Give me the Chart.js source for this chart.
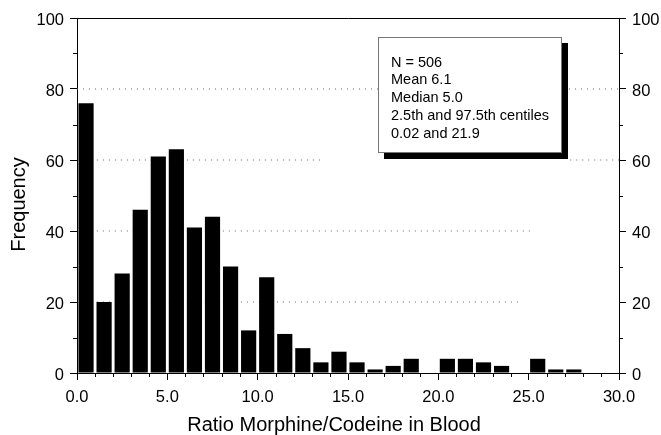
<!DOCTYPE html>
<html><head><meta charset="utf-8">
<script src="https://cdn.jsdelivr.net/npm/chart.js@4/dist/chart.umd.min.js"></script>
<style>html,body{margin:0;padding:0;background:#fff;}canvas{display:block;}</style>
</head><body>
<canvas id="c" width="661" height="435"></canvas>
<script>
// ---- data ----
const binCenters = [0.5,1.5,2.5,3.5,4.5,5.5,6.5,7.5,8.5,9.5,10.5,11.5,12.5,13.5,14.5,15.5,16.5,17.5,18.5,19.5,20.5,21.5,22.5,23.5,24.5,25.5,26.5,27.5];
const frequencies = [76,20,28,46,61,63,41,44,30,12,27,11,7,3,6,3,1,2,4,0,4,4,3,2,0,4,1,1];
const xTickValues = [0,5,10,15,20,25,30];
const yTickValues = [0,20,40,60,80,100];
const statsLines = ['N = 506','Mean 6.1','Median 5.0','2.5th and 97.5th centiles','0.02 and 21.9'];
const xTitle = 'Ratio Morphine/Codeine in Blood';
const yTitle = 'Frequency';
// dotted reference lines (value, spans in x units)
const guideLevels = [80, 60, 40, 20];
const guideSpans = [[[0,30]], [[1.1,13.6],[27.3,30]], [[1.1,25.2]], [[1.1,24.4]]];

const FONT = '"Liberation Sans", Arial, Helvetica, sans-serif';
Chart.defaults.font.family = FONT;
Chart.defaults.color = '#000';

function guideData(level, spans){
  const pts = [];
  spans.forEach((s, i) => {
    pts.push({x:s[0], y:level}, {x:s[1], y:level});
    if (i < spans.length - 1) pts.push({x:(s[1] + spans[i+1][0]) / 2, y:null});
  });
  return pts;
}

const guideDatasets = guideLevels.map((lv, i) => ({
  type:'line', data: guideData(lv, guideSpans[i]), borderColor:'#666', borderWidth:1,
  borderDash:[1,5], pointRadius:0, spanGaps:false, order:2, fill:false, yAxisID:'y'
}));

const deco = {
  id:'deco',
  afterDraw(chart){
    const {ctx, chartArea:a, scales} = chart;
    const x = scales.x, y = scales.y;
    ctx.save();
    ctx.strokeStyle = '#000'; ctx.lineWidth = 1;
    // top border
    ctx.beginPath(); ctx.moveTo(a.left, Math.round(a.top)+0.5); ctx.lineTo(a.right+0.5, Math.round(a.top)+0.5); ctx.stroke();
    // minor ticks x
    ctx.beginPath();
    for (let v = 0; v <= 30; v++) {
      if (v % 5 === 0) continue;
      const px = Math.round(x.getPixelForValue(v)) + 0.5;
      ctx.moveTo(px, a.bottom); ctx.lineTo(px, a.bottom + 4);
    }
    // minor ticks y (both sides)
    for (let v = 10; v < 100; v += 20) {
      const py = Math.round(y.getPixelForValue(v)) + 0.5;
      ctx.moveTo(a.left - 4, py); ctx.lineTo(a.left, py);
      ctx.moveTo(a.right, py); ctx.lineTo(a.right + 4, py);
    }
    ctx.stroke();
    // stats box
    const bx = 378, by = 37, bw = 184, bh = 116;
    ctx.fillStyle = '#000'; ctx.fillRect(bx + 6, by + 6, bw, bh);
    ctx.fillStyle = '#fff'; ctx.fillRect(bx, by, bw, bh);
    ctx.strokeStyle = '#777'; ctx.strokeRect(bx + 0.5, by + 0.5, bw - 1, bh - 1);
    ctx.fillStyle = '#000'; ctx.font = '14.5px ' + FONT; ctx.textBaseline = 'alphabetic'; ctx.textAlign = 'left';
    statsLines.forEach((t, i) => ctx.fillText(t, 391, 66.5 + i * 17.9));
    // axis titles
    ctx.font = '20px ' + FONT; ctx.textAlign = 'center';
    ctx.fillText(xTitle, 334, 431);
    ctx.translate(25, 204.5); ctx.rotate(-Math.PI / 2);
    ctx.fillText(yTitle, 0, 0);
    ctx.restore();
  }
};

const yAxisBase = {
  min:0, max:100,
  afterBuildTicks: s => { s.ticks = yTickValues.map(v => ({value:v})); },
  ticks:{font:{size:16.5}, padding:6, labelOffset:2, color:'#000'},
  grid:{drawOnChartArea:false, tickLength:7, color:'#000', tickColor:'#000'},
  border:{color:'#000', width:1}
};

new Chart(document.getElementById('c'), {
  type:'bar',
  data:{
    datasets:[
      {type:'bar', data: binCenters.map((c, i) => ({x:c, y:frequencies[i]})), backgroundColor:'#000',
       borderWidth:0, barPercentage:0.84, categoryPercentage:1, order:1, yAxisID:'y'},
      ...guideDatasets
    ]
  },
  options:{
    responsive:false, animation:false, devicePixelRatio:1,
    layout:{padding:{top:18, left:0, right:0, bottom:0}},
    plugins:{legend:{display:false}, tooltip:{enabled:false}},
    scales:{
      x:{
        type:'linear', min:0, max:30, offset:false,
        afterBuildTicks: s => { s.ticks = xTickValues.map(v => ({value:v})); },
        ticks:{font:{size:16.5}, padding:8, maxRotation:0, autoSkip:false, color:'#000', callback: v => Number(v).toFixed(1)},
        grid:{drawOnChartArea:false, offset:false, tickLength:7, color:'#000', tickColor:'#000'},
        border:{color:'#000', width:1},
        afterFit: s => { s.height = 62; }
      },
      y:{...yAxisBase, position:'left', afterFit: s => { s.width = 77; }},
      y2:{...yAxisBase, position:'right', afterFit: s => { s.width = 42; }}
    }
  },
  plugins:[deco]
});
</script>
</body></html>
